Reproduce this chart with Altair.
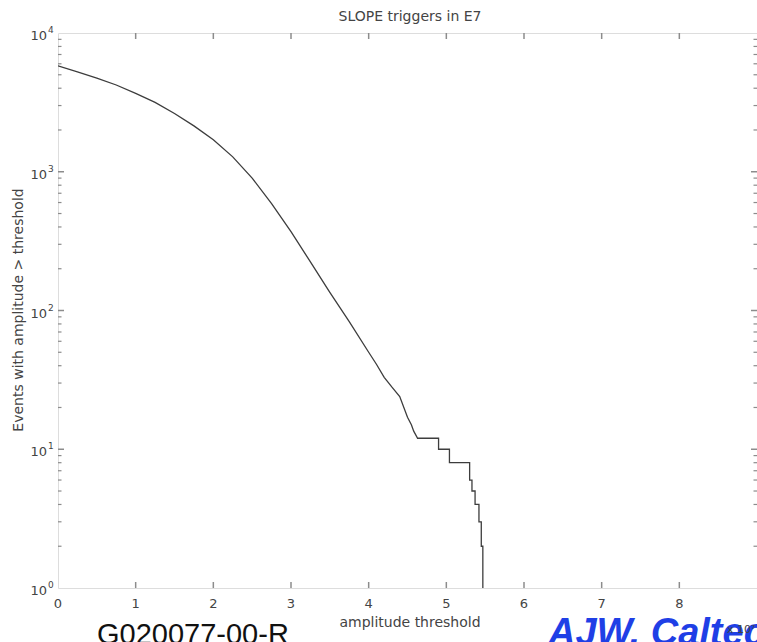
import altair as alt
import pandas as pd

# ---- data ----
amp = [0.0, 0.25, 0.5, 0.75, 1.0, 1.25, 1.5, 1.75, 2.0, 2.25, 2.5, 2.75, 3.0,
       3.25, 3.5, 3.75, 4.0, 4.1, 4.2, 4.3, 4.4, 4.5, 4.55, 4.58, 4.63,
       4.90, 4.90, 5.04, 5.04, 5.30, 5.30, 5.33, 5.33, 5.37, 5.37, 5.42, 5.42,
       5.45, 5.45, 5.47, 5.47]
events = [5800, 5250, 4730, 4220, 3670, 3160, 2630, 2140, 1700, 1280, 900, 590, 370,
          224, 135, 83, 50, 41, 33, 28, 24, 17, 15, 13.5, 12,
          12, 10, 10, 8, 8, 6, 6, 5, 5, 4, 4, 3,
          3, 2, 2, 1]

x_labels = [0, 1, 2, 3, 4, 5, 6, 7, 8]
x_ticks = [1, 2, 3, 4, 5, 6, 7, 8]
y_labels = [1, 10, 100, 1000, 10000]
y_exponents = ["0", "1", "2", "3", "4"]
y_major_ticks = [10, 100, 1000]
y_minor_ticks = [k * 10 ** d for d in range(4) for k in range(2, 10)]

title_text = "SLOPE triggers in E7"
x_title = "amplitude threshold"
y_title = "Events with amplitude > threshold"
footer_left = "G020077-00-R"
footer_right = "AJW, Caltech"
x_exponent = "x 10\u2077"

W, H = 699, 555
FONT = "DejaVu Sans"
GRAY = "#8c8c8c"
TXT = "#444444"

df = pd.DataFrame({"amp": amp, "events": events, "order": list(range(len(amp)))})

xscale = alt.Scale(domain=[0, 9], nice=False, zero=False)
yscale = alt.Scale(type="log", domain=[1, 10000], nice=False)

line = alt.Chart(df).mark_line(color="#3d3d3d", strokeWidth=1.3, clip=True).encode(
    x=alt.X("amp:Q", scale=xscale, axis=None),
    y=alt.Y("events:Q", scale=yscale, axis=None),
    order="order:Q",
)

xt_df = pd.DataFrame({"t": x_ticks})
x_bottom = alt.Chart(xt_df).mark_rule(color=GRAY, strokeWidth=1.5).encode(
    x=alt.X("t:Q", scale=xscale, axis=None), y=alt.value(H - 6), y2=alt.value(H))
x_top = alt.Chart(xt_df).mark_rule(color=GRAY, strokeWidth=1.5).encode(
    x=alt.X("t:Q", scale=xscale, axis=None), y=alt.value(0), y2=alt.value(6))

ymaj_df = pd.DataFrame({"v": y_major_ticks})
ymin_df = pd.DataFrame({"v": y_minor_ticks})
y_left_maj = alt.Chart(ymaj_df).mark_rule(color=GRAY, strokeWidth=1.5).encode(
    y=alt.Y("v:Q", scale=yscale, axis=None), x=alt.value(0), x2=alt.value(6))
y_right_maj = alt.Chart(ymaj_df).mark_rule(color=GRAY, strokeWidth=1.5).encode(
    y=alt.Y("v:Q", scale=yscale, axis=None), x=alt.value(W - 6), x2=alt.value(W))
y_left_min = alt.Chart(ymin_df).mark_rule(color=GRAY, strokeWidth=1.2).encode(
    y=alt.Y("v:Q", scale=yscale, axis=None), x=alt.value(0), x2=alt.value(3.5))
y_right_min = alt.Chart(ymin_df).mark_rule(color=GRAY, strokeWidth=1.2).encode(
    y=alt.Y("v:Q", scale=yscale, axis=None), x=alt.value(W - 3.5), x2=alt.value(W))

# tick labels (text marks placed through the scales)
xl_df = pd.DataFrame({"v": x_labels, "s": [str(v) for v in x_labels]})
x_lab = alt.Chart(xl_df).mark_text(font=FONT, fontSize=13, color=TXT, align="center",
                                   baseline="middle").encode(
    x=alt.X("v:Q", scale=xscale, axis=None), y=alt.value(H + 16), text="s:N")

yl_df = pd.DataFrame({"v": y_labels, "e": y_exponents, "b": ["10"] * len(y_labels)})
y_lab = alt.Chart(yl_df).mark_text(font=FONT, fontSize=13, color=TXT, align="right",
                                   baseline="middle", dy=3).encode(
    y=alt.Y("v:Q", scale=yscale, axis=None), x=alt.value(-11), text="b:N")
y_exp = alt.Chart(yl_df).mark_text(font=FONT, fontSize=9, color=TXT, align="left",
                                   baseline="middle", dy=-3).encode(
    y=alt.Y("v:Q", scale=yscale, axis=None), x=alt.value(-10), text="e:N")

lab_df = pd.DataFrame({"t": [title_text], "xt": [x_title], "yt": [y_title],
                       "a": [footer_left], "b": [footer_right], "c": [x_exponent]})
title_m = alt.Chart(lab_df).mark_text(font=FONT, fontSize=14, color=TXT, align="center",
                                      baseline="middle").encode(
    text="t:N", x=alt.value(352), y=alt.value(-16))
xtitle_m = alt.Chart(lab_df).mark_text(font=FONT, fontSize=14, color=TXT, align="center",
                                       baseline="middle").encode(
    text="xt:N", x=alt.value(352), y=alt.value(590))
ytitle_m = alt.Chart(lab_df).mark_text(font=FONT, fontSize=14, color=TXT, align="center",
                                       baseline="middle", angle=270).encode(
    text="yt:N", x=alt.value(-39), y=alt.value(277))
foot_l = alt.Chart(lab_df).mark_text(font="Liberation Sans", fontSize=29, color="#111111",
                                     align="left", baseline="alphabetic").encode(
    text="a:N", x=alt.value(39), y=alt.value(611))
foot_r = alt.Chart(lab_df).mark_text(font="Liberation Sans", fontSize=38, fontStyle="italic",
                                     fontWeight="bold", color="#1f3fe6",
                                     align="left", baseline="alphabetic").encode(
    text="b:N", x=alt.value(490), y=alt.value(612))
expo = alt.Chart(lab_df).mark_text(font=FONT, fontSize=11, color=TXT,
                                   align="left", baseline="middle").encode(
    text="c:N", x=alt.value(669), y=alt.value(597))

chart = alt.layer(
    line, x_bottom, x_top, y_left_maj, y_right_maj, y_left_min, y_right_min,
    x_lab, y_lab, y_exp, title_m, xtitle_m, ytitle_m, foot_r, expo, foot_l,
).properties(
    width=W, height=H,
    autosize=alt.AutoSizeParams(type="none"),
    padding={"left": 58, "top": 33, "right": 0, "bottom": 54},
).configure_view(
    stroke=GRAY, strokeWidth=1.5
).configure(background="white")

chart.save("out.html", embed_options={"renderer": "svg", "actions": False})
